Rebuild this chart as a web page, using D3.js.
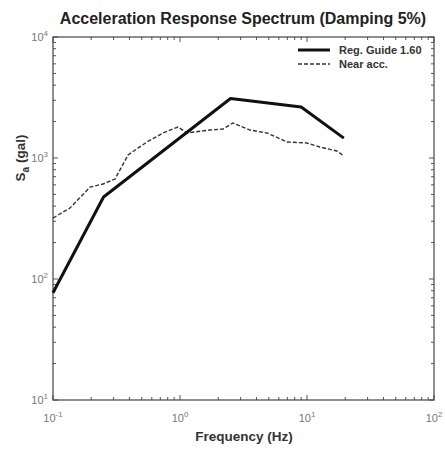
<!DOCTYPE html>
<html>
<head>
<meta charset="utf-8">
<script src="https://cdn.jsdelivr.net/npm/d3@7"></script>
<style>
  body { margin: 0; background: #fff; }
  text { font-family: "Liberation Sans", Arial, sans-serif; }
</style>
</head>
<body>
<div id="chart"></div>
<script>
// data (frequency in Hz, Sa in gal)
let regGuideFreq = [0.1, 0.25, 2.5, 9, 19.5];
let regGuideSa   = [77, 476, 3100, 2640, 1460];

let nearFreq = [0.1, 0.136, 0.196, 0.248, 0.308, 0.39, 0.55, 0.735, 0.964, 1.135,
                1.72, 2.18, 2.61, 3.56, 4.84, 6.96, 10, 12.6, 17.2, 19.5];
let nearSa   = [319, 386, 575, 610, 670, 1060, 1357, 1610, 1804, 1610,
                1703, 1738, 1947, 1703, 1610, 1357, 1330, 1233, 1143, 1039];

let xTickExp = [-1, 0, 1, 2];
let yTickExp = [1, 2, 3, 4];
let legendNames = ["Reg. Guide 1.60", "Near acc."];

// set the dimensions and margins of the graph
let margin = {top: 37, right: 11, bottom: 51, left: 53},
    width = 445 - margin.left - margin.right,
    height = 451 - margin.top - margin.bottom;

// set the ranges
let x = d3.scaleLog().domain([0.1, 100]).range([0, width]);
let y = d3.scaleLog().domain([10, 10000]).range([height, 0]);

let svg = d3.select("#chart").append("svg")
    .attr("width", 445)
    .attr("height", 451);

let g = svg.append("g")
    .attr("transform", "translate(" + margin.left + "," + margin.top + ")");

// ticks: majors and minors, inward on all four sides
let xMinor = [], yMinor = [];
for (let e = -1; e < 2; e++) for (let k = 2; k <= 9; k++) xMinor.push(k * Math.pow(10, e));
for (let e = 1; e < 4; e++) for (let k = 2; k <= 9; k++) yMinor.push(k * Math.pow(10, e));
let xMajor = xTickExp.map(function(e) { return Math.pow(10, e); });
let yMajor = yTickExp.map(function(e) { return Math.pow(10, e); });

let tickColor = "#555";
function xTicks(vals, len) {
    g.selectAll(null).data(vals).enter().append("line")
        .attr("x1", function(d) { return x(d); }).attr("x2", function(d) { return x(d); })
        .attr("y1", height).attr("y2", height - len)
        .attr("stroke", tickColor).attr("stroke-width", 1);
    g.selectAll(null).data(vals).enter().append("line")
        .attr("x1", function(d) { return x(d); }).attr("x2", function(d) { return x(d); })
        .attr("y1", 0).attr("y2", len)
        .attr("stroke", tickColor).attr("stroke-width", 1);
}
function yTicks(vals, len) {
    g.selectAll(null).data(vals).enter().append("line")
        .attr("y1", function(d) { return y(d); }).attr("y2", function(d) { return y(d); })
        .attr("x1", 0).attr("x2", len)
        .attr("stroke", tickColor).attr("stroke-width", 1);
    g.selectAll(null).data(vals).enter().append("line")
        .attr("y1", function(d) { return y(d); }).attr("y2", function(d) { return y(d); })
        .attr("x1", width).attr("x2", width - len)
        .attr("stroke", tickColor).attr("stroke-width", 1);
}
xTicks(xMinor, 3);
xTicks(xMajor, 5);
yTicks(yMinor, 3);
yTicks(yMajor, 5);

// box
g.append("rect")
    .attr("width", width).attr("height", height)
    .attr("fill", "none").attr("stroke", "#444").attr("stroke-width", 1.2);

// tick labels, 10 with superscript exponent
let labelColor = "#777";
let xl = g.selectAll(".xlab").data(xTickExp).enter().append("text")
    .attr("class", "xlab")
    .attr("x", function(e) { return x(Math.pow(10, e)); })
    .attr("y", height + 22)
    .attr("text-anchor", "middle")
    .attr("fill", labelColor)
    .style("font-size", "11px");
xl.append("tspan").text("10");
xl.append("tspan").attr("dy", -5).style("font-size", "8px").text(function(e) { return e; });

let yl = g.selectAll(".ylab").data(yTickExp).enter().append("text")
    .attr("class", "ylab")
    .attr("x", -5)
    .attr("y", function(e) { return y(Math.pow(10, e)) + 4; })
    .attr("text-anchor", "end")
    .attr("fill", labelColor)
    .style("font-size", "11px");
yl.append("tspan").text("10");
yl.append("tspan").attr("dy", -5).style("font-size", "8px").text(function(e) { return e; });

// lines
let line = d3.line()
    .x(function(d) { return x(d[0]); })
    .y(function(d) { return y(d[1]); });

g.append("path")
    .datum(d3.zip(nearFreq, nearSa))
    .attr("d", line)
    .attr("fill", "none")
    .attr("stroke", "#333")
    .attr("stroke-width", 1.4)
    .attr("stroke-dasharray", "4,2");

g.append("path")
    .datum(d3.zip(regGuideFreq, regGuideSa))
    .attr("d", line)
    .attr("fill", "none")
    .attr("stroke", "#111")
    .attr("stroke-width", 3)
    .attr("stroke-linejoin", "round");

// legend
let legend = g.append("g").attr("transform", "translate(" + (width - 136) + ",13)");
legend.append("line").attr("x1", 0).attr("x2", 32).attr("y1", 0).attr("y2", 0)
    .attr("stroke", "#111").attr("stroke-width", 3);
legend.append("line").attr("x1", 0).attr("x2", 32).attr("y1", 14).attr("y2", 14)
    .attr("stroke", "#333").attr("stroke-width", 1.4).attr("stroke-dasharray", "4,2");
legend.selectAll("text").data(legendNames).enter().append("text")
    .attr("x", 41)
    .attr("y", function(d, i) { return i * 14 + 4; })
    .attr("fill", "#333")
    .style("font-size", "11px")
    .style("font-weight", "bold")
    .text(function(d) { return d; });

// title
svg.append("text")
    .attr("x", 243).attr("y", 24)
    .attr("text-anchor", "middle")
    .attr("fill", "#222")
    .style("font-size", "16px")
    .style("font-weight", "bold")
    .text("Acceleration Response Spectrum (Damping 5%)");

// axis labels
svg.append("text")
    .attr("x", 244).attr("y", 441)
    .attr("text-anchor", "middle")
    .attr("fill", "#333")
    .style("font-size", "13.5px")
    .style("font-weight", "bold")
    .text("Frequency (Hz)");

let ylab = svg.append("text")
    .attr("transform", "translate(25,158) rotate(-90)")
    .attr("text-anchor", "middle")
    .attr("fill", "#333")
    .style("font-size", "13.5px")
    .style("font-weight", "bold");
ylab.append("tspan").text("S");
ylab.append("tspan").attr("dy", 4).style("font-size", "10px").text("a");
ylab.append("tspan").attr("dy", -4).text(" (gal)");
</script>
</body>
</html>
